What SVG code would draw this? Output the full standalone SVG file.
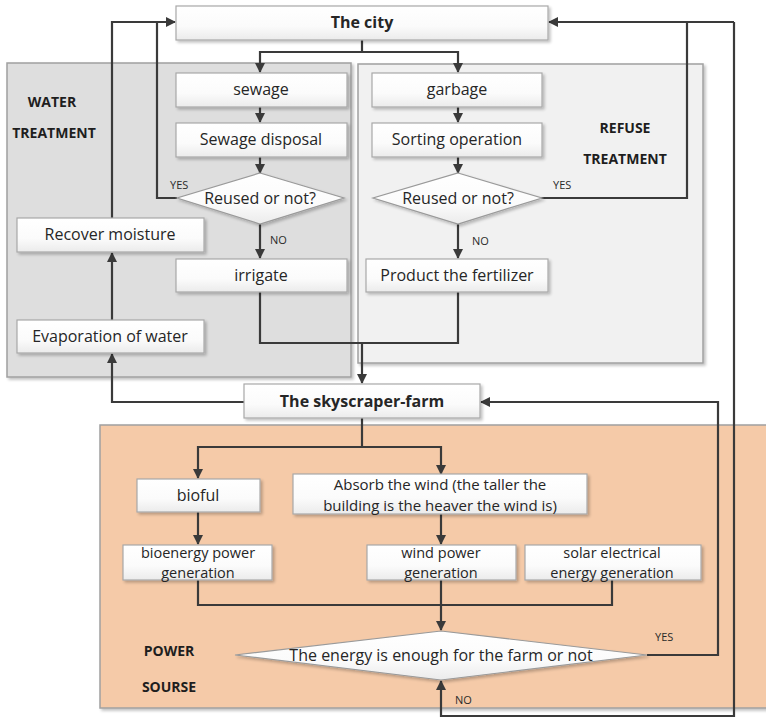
<svg xmlns="http://www.w3.org/2000/svg" width="766" height="717" viewBox="0 0 766 717">
  <defs>
    <linearGradient id="boxFill" x1="0" y1="0" x2="0" y2="1">
      <stop offset="0" stop-color="#ffffff"/>
      <stop offset="0.6" stop-color="#fbfbfb"/>
      <stop offset="1" stop-color="#ebebeb"/>
    </linearGradient>
    <filter id="shadow" x="-10%" y="-20%" width="125%" height="150%">
      <feGaussianBlur in="SourceAlpha" stdDeviation="1.5"/>
      <feOffset dx="2" dy="2" result="b"/>
      <feComponentTransfer><feFuncA type="linear" slope="0.25"/></feComponentTransfer>
      <feMerge><feMergeNode/><feMergeNode in="SourceGraphic"/></feMerge>
    </filter>
    <marker id="arrow" viewBox="0 0 10 10" refX="9" refY="5" markerWidth="10" markerHeight="10" markerUnits="userSpaceOnUse" orient="auto">
      <path d="M0,0 L10,5 L0,10 z" fill="#3a3a3a"/>
    </marker>
    <style>
      .panel { stroke: #a0a0a0; stroke-width: 1.5; filter: url(#shadow); }
      .box { fill: url(#boxFill); stroke: #a8a8a8; stroke-width: 1.2; filter: url(#shadow); }
      .dia { fill: url(#boxFill); stroke: #9a9a9a; stroke-width: 1.2; filter: url(#shadow); }
      .t { font-family: "Open Sans", "Liberation Sans", sans-serif; font-size: 16px; fill: #262626; text-anchor: middle; dominant-baseline: central; }
      .t2 { font-size: 14.5px; }
      .b { font-weight: bold; }
      .lab { font-family: "Open Sans", "Liberation Sans", sans-serif; font-size: 11px; fill: #2a2a2a; dominant-baseline: central; }
      .sec { font-family: "Open Sans", "Liberation Sans", sans-serif; font-size: 14px; font-weight: bold; fill: #1e1e1e; text-anchor: middle; dominant-baseline: central; }
      .c { fill: none; stroke: #3a3a3a; stroke-width: 2.2; }
      .ca { fill: none; stroke: #3a3a3a; stroke-width: 2.2; marker-end: url(#arrow); }
    </style>
  </defs>

  <rect width="766" height="717" fill="#ffffff"/>

  <!-- section panels -->
  <g id="water-panel">
    <rect class="panel" x="7" y="63" width="344" height="314" fill="#dedede"/>
    <text class="sec" x="52" y="101">WATER</text>
    <text class="sec" x="54" y="132">TREATMENT</text>
  </g>
  <g id="refuse-panel">
    <rect class="panel" x="358" y="64" width="345" height="299" fill="#f1f1f1"/>
    <text class="sec" x="625" y="127">REFUSE</text>
    <text class="sec" x="625" y="158">TREATMENT</text>
  </g>
  <g id="power-panel">
    <rect class="panel" x="100" y="425" width="690" height="283" fill="#f5caa8"/>
    <text class="sec" x="169" y="650">POWER</text>
    <text class="sec" x="169" y="686">SOURSE</text>
  </g>

  <!-- connectors -->
  <g id="connectors">
    <path class="ca" d="M362,40 V52 H260 V72"/>
    <path class="ca" d="M362,52 H458 V72"/>
    <path class="ca" d="M260,107 V122"/>
    <path class="ca" d="M260,157 V173"/>
    <path class="ca" d="M260,224 V258"/>
    <path class="ca" d="M458,107 V122"/>
    <path class="ca" d="M458,157 V173"/>
    <path class="ca" d="M458,224 V258"/>
    <path class="c" d="M177,198 H157 V22"/>
    <path class="ca" d="M112,218 V22 H175"/>
    <path class="ca" d="M112,320 V253"/>
    <path class="ca" d="M244,402 H112 V354"/>
    <path class="ca" d="M260,292 V343 H362 V383"/>
    <path class="c" d="M458,292 V343 H362"/>
    <path class="ca" d="M541,198 H687 V22 H549"/>
    <path class="c" d="M734,22 H687"/>
    <path class="ca" d="M734,22 V716 H441 V681"/>
    <path class="ca" d="M647,655 H718 V402 H481"/>
    <path class="ca" d="M362,418 V447 H198 V478"/>
    <path class="ca" d="M362,447 H441 V474"/>
    <path class="ca" d="M198,512 V544"/>
    <path class="ca" d="M441,514 V544"/>
    <path class="c" d="M198,580 V605 H612 V580"/>
    <path class="ca" d="M441,580 V630"/>
    <text class="lab" x="170" y="184">YES</text>
    <text class="lab" x="270" y="239">NO</text>
    <text class="lab" x="553" y="184">YES</text>
    <text class="lab" x="472" y="240">NO</text>
    <text class="lab" x="655" y="636">YES</text>
    <text class="lab" x="455" y="699">NO</text>
  </g>

  <!-- nodes -->
  <g id="city">
    <rect class="box" x="176" y="6" width="372" height="34"/>
    <text class="t b" x="362" y="22">The city</text>
  </g>
  <g id="sewage">
    <rect class="box" x="176" y="73" width="171" height="34"/>
    <text class="t" x="261" y="89">sewage</text>
  </g>
  <g id="sewage-disposal">
    <rect class="box" x="176" y="123" width="171" height="34"/>
    <text class="t" x="261" y="139">Sewage disposal</text>
  </g>
  <g id="water-reuse">
    <polygon class="dia" points="260,173 344,198 260,224 177,198"/>
    <text class="t" x="260" y="198">Reused or not?</text>
  </g>
  <g id="irrigate">
    <rect class="box" x="176" y="259" width="171" height="33"/>
    <text class="t" x="261" y="275">irrigate</text>
  </g>
  <g id="recover-moisture">
    <rect class="box" x="17" y="218" width="187" height="34"/>
    <text class="t" x="110" y="234">Recover moisture</text>
  </g>
  <g id="evaporation">
    <rect class="box" x="17" y="320" width="187" height="33"/>
    <text class="t" x="110" y="336">Evaporation of water</text>
  </g>
  <g id="garbage">
    <rect class="box" x="372" y="73" width="170" height="34"/>
    <text class="t" x="457" y="89">garbage</text>
  </g>
  <g id="sorting">
    <rect class="box" x="372" y="123" width="170" height="34"/>
    <text class="t" x="457" y="139">Sorting operation</text>
  </g>
  <g id="refuse-reuse">
    <polygon class="dia" points="458,173 542,198 458,224 373,198"/>
    <text class="t" x="458" y="198">Reused or not?</text>
  </g>
  <g id="fertilizer">
    <rect class="box" x="366" y="259" width="182" height="33"/>
    <text class="t" x="457" y="275">Product the fertilizer</text>
  </g>
  <g id="skyscraper-farm">
    <rect class="box" x="244" y="384" width="236" height="34"/>
    <text class="t b" x="362" y="401">The skyscraper-farm</text>
  </g>
  <g id="bioful">
    <rect class="box" x="137" y="479" width="123" height="33"/>
    <text class="t" x="198" y="495">bioful</text>
  </g>
  <g id="absorb-wind">
    <rect class="box" x="293" y="474" width="294" height="40"/>
    <text class="t" x="440" y="484" style="font-size:15px">Absorb the wind (the taller the</text>
    <text class="t" x="440" y="504.5" style="font-size:15px">building is the heaver the wind is)</text>
  </g>
  <g id="bioenergy">
    <rect class="box" x="123" y="545" width="149" height="35"/>
    <text class="t t2" x="198" y="552.5">bioenergy power</text>
    <text class="t t2" x="198" y="572.5">generation</text>
  </g>
  <g id="wind-power">
    <rect class="box" x="367" y="545" width="149" height="35"/>
    <text class="t t2" x="441" y="552.5">wind power</text>
    <text class="t t2" x="441" y="572.5">generation</text>
  </g>
  <g id="solar">
    <rect class="box" x="525" y="545" width="176" height="35"/>
    <text class="t t2" x="612" y="552.5">solar electrical</text>
    <text class="t t2" x="612" y="572.5">energy generation</text>
  </g>
  <g id="energy-check">
    <polygon class="dia" points="441,631 647,655 441,680 235,655"/>
    <text class="t" x="441" y="655">The energy is enough for the farm or not</text>
  </g>
</svg>
